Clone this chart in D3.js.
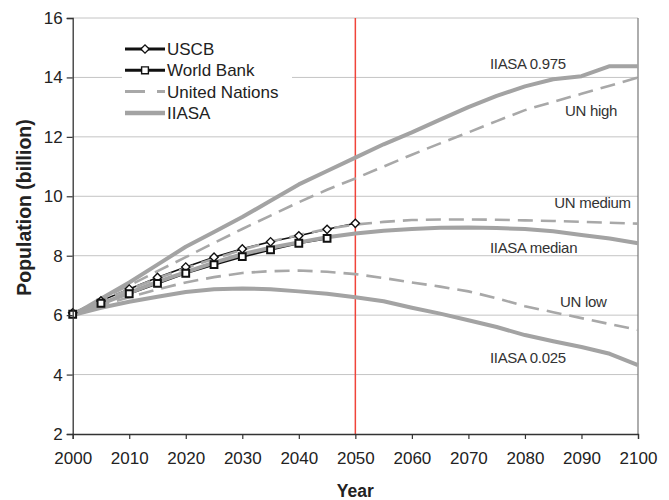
<!DOCTYPE html>
<html>
<head>
<meta charset="utf-8">
<script src="https://cdn.jsdelivr.net/npm/d3@7"></script>
<style>
  html, body { margin: 0; padding: 0; background: #fff; }
  svg { display: block; font-family: "Liberation Sans", Arial, sans-serif; }
</style>
</head>
<body>
<svg id="chart" width="669" height="500"></svg>
<script>
// World population projections (billion)
const years5 = d3.range(2000, 2101, 5);
const yearsUSCB = d3.range(2000, 2051, 5);
const yearsWB = d3.range(2000, 2046, 5);

const uscb = [6.08, 6.48, 6.88, 7.27, 7.62, 7.95, 8.23, 8.47, 8.67, 8.89, 9.09];
const worldBank = [6.03, 6.40, 6.72, 7.07, 7.41, 7.70, 7.97, 8.20, 8.42, 8.58];

const unHigh   = [6.05, 6.52, 7.00, 7.48, 7.95, 8.43, 8.90, 9.35, 9.80, 10.22, 10.60, 11.00, 11.40, 11.78, 12.15, 12.53, 12.90, 13.18, 13.45, 13.72, 14.00];
const unMedium = [6.05, 6.47, 6.86, 7.24, 7.58, 7.90, 8.20, 8.47, 8.70, 8.90, 9.05, 9.14, 9.20, 9.22, 9.22, 9.21, 9.19, 9.17, 9.14, 9.11, 9.08];
const unLow    = [6.05, 6.33, 6.60, 6.87, 7.10, 7.28, 7.42, 7.48, 7.50, 7.46, 7.38, 7.25, 7.10, 6.96, 6.80, 6.57, 6.30, 6.10, 5.90, 5.70, 5.50];

const iiasaHigh   = [6.00, 6.55, 7.10, 7.70, 8.30, 8.80, 9.30, 9.85, 10.40, 10.85, 11.30, 11.75, 12.15, 12.58, 13.00, 13.38, 13.70, 13.94, 14.04, 14.38, 14.38];
const iiasaMedian = [6.00, 6.38, 6.75, 7.12, 7.45, 7.77, 8.05, 8.27, 8.45, 8.62, 8.75, 8.84, 8.90, 8.94, 8.95, 8.93, 8.90, 8.82, 8.70, 8.58, 8.42];
const iiasaLow    = [6.00, 6.25, 6.45, 6.62, 6.78, 6.87, 6.90, 6.87, 6.80, 6.72, 6.60, 6.47, 6.25, 6.05, 5.83, 5.60, 5.33, 5.12, 4.93, 4.70, 4.32];

const yTicks = [2, 4, 6, 8, 10, 12, 14, 16];
const xTicks = d3.range(2000, 2101, 10);

const legendItems = ["USCB", "World Bank", "United Nations", "IIASA"];

// annotation text placed at [year, value] of its baseline start
const annotations = [
  { text: "IIASA 0.975",  year: 2073.8, value: 14.30 },
  { text: "UN high",      year: 2087.1, value: 12.69 },
  { text: "UN medium",    year: 2085.2, value: 9.62 },
  { text: "IIASA median", year: 2073.8, value: 8.08 },
  { text: "UN low",       year: 2086.2, value: 6.27 },
  { text: "IIASA 0.025",  year: 2073.8, value: 4.38 }
];
const markerYear = 2050;

const svg = d3.select("#chart");
const margin = { left: 72.7, right: 31, top: 18, bottom: 66 };
const W = 669, H = 500;

const x = d3.scaleLinear().domain([2000, 2100]).range([margin.left, W - margin.right]);
const y = d3.scaleLinear().domain([2, 16]).range([H - margin.bottom, margin.top]);

const solidGray = "#a3a3a3";
const dashGray = "#a8a8a8";

// gridlines
svg.append("g").selectAll("line").data(yTicks.filter(d => d > 2)).join("line")
  .attr("x1", x(2000)).attr("x2", x(2100))
  .attr("y1", d => y(d)).attr("y2", d => y(d))
  .attr("stroke", "#c4c4c4").attr("stroke-width", 1);

// right border
svg.append("line")
  .attr("x1", x(2100)).attr("x2", x(2100))
  .attr("y1", y(16)).attr("y2", y(2))
  .attr("stroke", "#777").attr("stroke-width", 1.2);

// legend background
svg.append("rect")
  .attr("x", 122).attr("y", 32).attr("width", 170).attr("height", 92)
  .attr("fill", "#fff");

// 2050 marker line
svg.append("line")
  .attr("x1", x(markerYear)).attr("x2", x(markerYear))
  .attr("y1", y(16)).attr("y2", y(2))
  .attr("stroke", "#f0443a").attr("stroke-width", 1.5);

const line = (xs) => d3.line().x((d, i) => x(xs[i])).y(d => y(d));

const plot = svg.append("g");

// USCB
plot.append("path").datum(uscb)
  .attr("d", line(yearsUSCB)).attr("fill", "none")
  .attr("stroke", "#111").attr("stroke-width", 1.6);
// World Bank
plot.append("path").datum(worldBank)
  .attr("d", line(yearsWB)).attr("fill", "none")
  .attr("stroke", "#111").attr("stroke-width", 2.2);

// United Nations scenarios
[unHigh, unMedium, unLow].forEach(s => {
  plot.append("path").datum(s)
    .attr("d", line(years5)).attr("fill", "none")
    .attr("stroke", dashGray).attr("stroke-width", 2.6)
    .attr("stroke-dasharray", "15,8");
});

// IIASA scenarios
[iiasaHigh, iiasaMedian, iiasaLow].forEach(s => {
  plot.append("path").datum(s)
    .attr("d", line(years5)).attr("fill", "none")
    .attr("stroke", solidGray).attr("stroke-width", 4)
    .attr("stroke-linejoin", "round");
});

// markers: diamonds are squares turned 45 degrees
const diamond = d3.symbol().type(d3.symbolSquare).size(34);
const square = d3.symbol().type(d3.symbolSquare).size(46);

plot.append("g").selectAll("path").data(uscb).join("path")
  .attr("d", diamond)
  .attr("transform", (d, i) => `translate(${x(yearsUSCB[i])},${y(d)}) rotate(45)`)
  .attr("fill", "#fff").attr("stroke", "#111").attr("stroke-width", 1.4);

plot.append("g").selectAll("path").data(worldBank).join("path")
  .attr("d", square)
  .attr("transform", (d, i) => `translate(${x(yearsWB[i])},${y(d)})`)
  .attr("fill", "#fff").attr("stroke", "#111").attr("stroke-width", 2);

// axes
const yAxis = d3.axisLeft(y).tickValues(yTicks).tickSize(6).tickPadding(4).tickFormat(d3.format("d"));
const gy = svg.append("g").attr("transform", `translate(${x(2000)},0)`).call(yAxis);
gy.select(".domain").attr("stroke", "#333").attr("stroke-width", 1.3);
gy.selectAll(".tick line").attr("stroke", "#333").attr("stroke-width", 1.2);
gy.selectAll(".tick text").attr("font-size", 17).attr("fill", "#222")
  .attr("font-family", "Liberation Sans, Arial, sans-serif");

const xAxis = d3.axisBottom(x).tickValues(xTicks).tickSize(5).tickPadding(13).tickFormat(d3.format("d"));
const gx = svg.append("g").attr("transform", `translate(0,${y(2)})`).call(xAxis);
gx.select(".domain").attr("stroke", "#333").attr("stroke-width", 1.3);
gx.selectAll(".tick line").attr("stroke", "#333").attr("stroke-width", 1.2);
gx.selectAll(".tick text").attr("font-size", 17).attr("fill", "#222")
  .attr("font-family", "Liberation Sans, Arial, sans-serif");

// axis titles
svg.append("text")
  .attr("transform", `translate(31,${(117 + 298) / 2}) rotate(-90)`)
  .attr("text-anchor", "middle")
  .attr("font-size", 19.5).attr("font-weight", "bold").attr("fill", "#222")
  .text("Population (billion)");

svg.append("text")
  .attr("x", x(2050)).attr("y", 497)
  .attr("text-anchor", "middle")
  .attr("font-size", 17.5).attr("font-weight", "bold").attr("fill", "#222")
  .text("Year");

// scenario annotations
svg.append("g").selectAll("text").data(annotations).join("text")
  .attr("x", d => x(d.year)).attr("y", d => y(d.value))
  .attr("font-size", 15).attr("fill", "#333").attr("letter-spacing", -0.3)
  .text(d => d.text);

// legend
const lg = svg.append("g");
const lx0 = 125, lx1 = 165, ly0 = 49, lstep = 21.3;
legendItems.forEach((name, i) => {
  const ly = ly0 + i * lstep;
  const row = lg.append("g");
  if (i === 0 || i === 1) {
    row.append("line").attr("x1", lx0).attr("x2", lx1).attr("y1", ly).attr("y2", ly)
      .attr("stroke", "#111").attr("stroke-width", 3);
    row.append("path")
      .attr("d", i === 0 ? diamond : square)
      .attr("transform", `translate(${(lx0 + lx1) / 2},${ly})` + (i === 0 ? " rotate(45)" : ""))
      .attr("fill", "#fff").attr("stroke", "#111").attr("stroke-width", 1.4);
  } else if (i === 2) {
    row.append("line").attr("x1", lx0).attr("x2", lx1).attr("y1", ly).attr("y2", ly)
      .attr("stroke", dashGray).attr("stroke-width", 3).attr("stroke-dasharray", "20,12");
  } else {
    row.append("line").attr("x1", lx0).attr("x2", lx1).attr("y1", ly).attr("y2", ly)
      .attr("stroke", solidGray).attr("stroke-width", 4.5);
  }
  row.append("text").attr("x", lx1 + 2).attr("y", ly).attr("dy", "0.36em")
    .attr("font-size", 17).attr("fill", "#222").text(name);
});
</script>
</body>
</html>
